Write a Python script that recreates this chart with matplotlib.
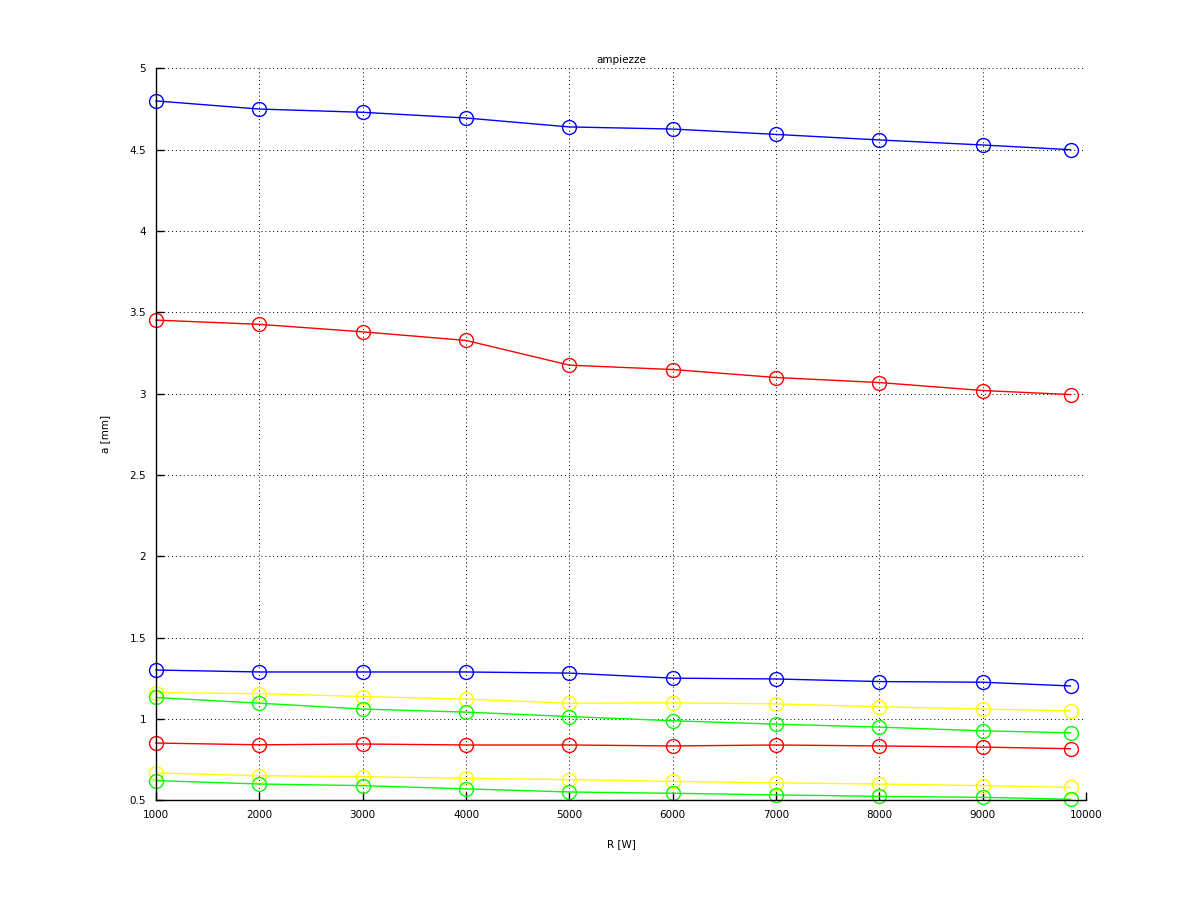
import numpy as np
import matplotlib
matplotlib.use('Agg')
import matplotlib.pyplot as plt

#%% data
R = [1000, 2000, 3000, 4000, 5000, 6000, 7000, 8000, 9000, 9850]

a_blue_hi = [4.80, 4.75, 4.73, 4.695, 4.64, 4.627, 4.594, 4.56, 4.529, 4.50]
a_red_hi = [3.452, 3.426, 3.38, 3.327, 3.175, 3.148, 3.099, 3.068, 3.019, 2.994]
a_blue_lo = [1.30, 1.288, 1.288, 1.288, 1.281, 1.25, 1.245, 1.229, 1.225, 1.202]
a_yel_hi = [1.161, 1.155, 1.137, 1.121, 1.096, 1.098, 1.092, 1.074, 1.060, 1.049]
a_grn_hi = [1.131, 1.096, 1.060, 1.041, 1.014, 0.988, 0.967, 0.949, 0.926, 0.914]
a_red_lo = [0.851, 0.840, 0.845, 0.839, 0.839, 0.833, 0.839, 0.833, 0.826, 0.816]
a_yel_lo = [0.667, 0.650, 0.644, 0.634, 0.626, 0.615, 0.606, 0.599, 0.589, 0.578]
a_grn_lo = [0.620, 0.599, 0.589, 0.569, 0.550, 0.542, 0.532, 0.523, 0.517, 0.505]

series = [(a_blue_hi, '#0000ff'), (a_red_hi, '#ff0000'), (a_blue_lo, '#0000ff'),
          (a_yel_hi, '#ffff00'), (a_grn_hi, '#00ff00'), (a_red_lo, '#ff0000'),
          (a_yel_lo, '#ffff00'), (a_grn_lo, '#00ff00')]

#%%
fig = plt.figure(figsize=(12, 9), dpi=100)
ax = fig.add_axes([0.13, 0.111, 0.775, 0.813])

for yy, c in series:
    ax.plot(R, yy, color=c, lw=1, marker='o', ms=10, mfc='none', mec=c, mew=1, clip_on=False)

ax.set_xlim(1000, 10000)
ax.set_ylim(0.5, 5)
ax.set_xticks(np.arange(1000, 10001, 1000))
ax.set_yticks(np.arange(0.5, 5.01, 0.5))
ax.set_yticklabels(['0.5', '1', '1.5', '2', '2.5', '3', '3.5', '4', '4.5', '5'])

ax.grid(True, color='black', linestyle=(0, (1, 3)), linewidth=0.7)
ax.spines['top'].set_visible(False)
ax.spines['right'].set_visible(False)
ax.spines['left'].set_linewidth(1)
ax.spines['bottom'].set_linewidth(1)
ax.tick_params(direction='in', length=6, width=1, labelsize=7.5, pad=7)

ax.set_title('ampiezze', fontsize=7.5, pad=4)
ax.set_xlabel('R [W]', fontsize=7.5, labelpad=14)
ax.set_ylabel('a [mm]', fontsize=7.5, labelpad=14)

fig.savefig('out.png', dpi=100)
